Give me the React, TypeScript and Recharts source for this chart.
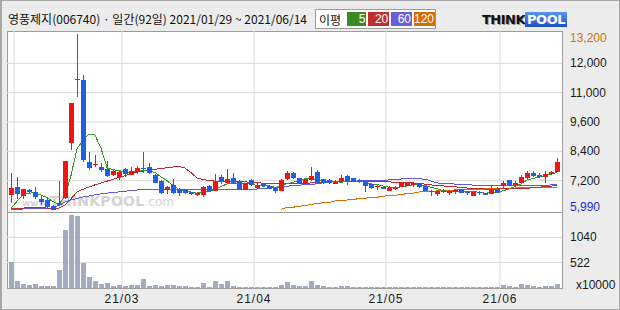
import React from "react";
import { ComposedChart, Bar, Line, XAxis, YAxis, CartesianGrid } from "recharts";

// trading days 2021/01/29 ~ 2021/06/14
const dates = [
  "01/29",
  "02/01", "02/02", "02/03", "02/04", "02/05", "02/08", "02/09", "02/10", "02/15",
  "02/16", "02/17", "02/18", "02/19", "02/22", "02/23", "02/24", "02/25", "02/26",
  "03/02", "03/03", "03/04", "03/05", "03/08", "03/09", "03/10", "03/11", "03/12",
  "03/15", "03/16", "03/17", "03/18", "03/19", "03/22", "03/23", "03/24", "03/25",
  "03/26", "03/29", "03/30", "03/31",
  "04/01", "04/02", "04/05", "04/06", "04/07", "04/08", "04/09", "04/12", "04/13",
  "04/14", "04/15", "04/16", "04/19", "04/20", "04/21", "04/22", "04/23", "04/26",
  "04/27", "04/28", "04/29", "04/30",
  "05/03", "05/04", "05/06", "05/07", "05/10", "05/11", "05/12", "05/13", "05/14",
  "05/17", "05/18", "05/20", "05/21", "05/24", "05/25", "05/26", "05/27", "05/28", "05/31",
  "06/01", "06/02", "06/03", "06/04", "06/07", "06/08", "06/09", "06/10", "06/11", "06/14",
];

const opens = [
  6620, 6930, 6580, 6800, 6730, 6450, 6390, 6140, 6280, 6480,
  8740, 11350, 11330, 7960, 7860, 7740, 7670, 7420, 7350, 7670,
  7440, 7530, 7720, 7740, 7420, 7180, 6810, 7010, 6840, 6840,
  6720, 6610, 6600, 6970, 6780, 7350, 7110, 7290, 7190, 6810,
  7220, 6880, 7070, 6970, 6900, 6780, 7250, 7520, 7290, 7060,
  7220, 7530, 7250, 7220, 7060, 7160, 7380, 7290, 7230, 7190,
  7050, 6950, 6950, 6780, 6880, 6950, 6970, 7000, 7060, 6970,
  6780, 6650, 6780, 6700, 6720, 6850, 6740, 6580, 6730, 6690,
  6650, 6850, 6980, 7220, 7010, 7090, 7290, 7520, 7440, 7360,
  7470, 7560,
];
const highs = [
  7500, 7340, 6870, 6840, 6930, 6560, 6510, 6200, 7170, 7990,
  10380, 13200, 11500, 8370, 8230, 7900, 7990, 7620, 7620, 7700,
  7740, 7780, 8380, 7900, 7480, 7220, 6990, 7250, 6880, 6860,
  6740, 6720, 6960, 7000, 7470, 7420, 7670, 7490, 7200, 7100,
  7240, 7100, 7110, 7000, 6920, 7250, 7600, 7560, 7300, 7280,
  7740, 7630, 7270, 7250, 7200, 7420, 7420, 7310, 7250, 7200,
  7060, 7000, 6990, 6960, 6960, 7120, 7130, 7110, 7080, 6990,
  6790, 6800, 6840, 6790, 6840, 6870, 6770, 6730, 6760, 6700,
  7010, 6940, 7180, 7230, 7170, 7420, 7600, 7600, 7520, 7600,
  7600, 8140,
];
const lows = [
  6280, 6450, 6450, 6680, 6450, 6200, 6020, 5990, 6140, 6450,
  8460, 10600, 7940, 7640, 7750, 7550, 7330, 7380, 7210, 7330,
  7420, 7450, 7500, 7480, 7100, 6650, 6650, 6660, 6560, 6660,
  6620, 6580, 6540, 6750, 6750, 7050, 7100, 7060, 6800, 6790,
  6980, 6860, 6930, 6830, 6700, 6760, 7220, 7250, 7040, 7040,
  7180, 7050, 7070, 7060, 7050, 7150, 7030, 7130, 7100, 6740,
  6860, 6800, 6830, 6760, 6800, 6930, 6960, 6940, 6900, 6760,
  6560, 6570, 6680, 6590, 6630, 6690, 6610, 6570, 6600, 6610,
  6640, 6690, 6880, 7000, 6990, 7080, 7250, 7330, 7300, 7110,
  7420, 7530,
];
const closes = [
  6890, 6660, 6850, 6720, 6510, 6300, 6100, 6000, 6190, 7990,
  10380, 11300, 8050, 7710, 7880, 7640, 7370, 7590, 7550, 7450,
  7600, 7710, 7690, 7520, 7110, 6700, 6950, 6700, 6670, 6670,
  6640, 6700, 6930, 6770, 7150, 7180, 7250, 7080, 6810, 7080,
  7000, 7010, 6970, 6840, 6780, 7220, 7520, 7310, 7060, 7250,
  7380, 7080, 7080, 7080, 7130, 7300, 7150, 7150, 7120, 6990,
  6880, 6990, 6850, 6900, 6900, 7080, 7110, 7090, 6920, 6780,
  6720, 6780, 6720, 6770, 6820, 6700, 6680, 6720, 6680, 6620,
  6810, 6700, 7110, 7010, 7110, 7350, 7520, 7400, 7340, 7450,
  7560, 7970,
];
// volume, x10000 shares
const volumes = [
  533, 143, 89, 68, 89, 41, 41, 41, 376, 1188,
  1496, 1475, 512, 232, 143, 82, 102, 41, 61, 41,
  61, 61, 184, 41, 61, 41, 61, 61, 41, 41,
  20, 20, 102, 20, 143, 82, 143, 41, 20, 20,
  20, 20, 20, 20, 20, 61, 123, 61, 41, 41,
  143, 61, 41, 20, 20, 41, 41, 20, 20, 20,
  20, 20, 20, 20, 20, 20, 20, 20, 20, 20,
  20, 20, 20, 20, 20, 20, 20, 20, 20, 20,
  20, 20, 61, 41, 20, 82, 61, 41, 20, 41,
  41, 82,
];

// moving averages as drawn
const ma5 = [
  6050, 6350, 6600, 6680, 6700, 6600, 6500, 6330, 6220, 6560,
  7400, 8500, 8850, 9090, 9060, 8520, 7730, 7640, 7610, 7520,
  7510, 7580, 7600, 7590, 7530, 7350, 7190, 7000, 6830, 6740,
  6730, 6680, 6720, 6740, 6840, 6950, 7060, 7090, 7090, 7080,
  7040, 7000, 6970, 6980, 6920, 6960, 7070, 7130, 7180, 7270,
  7300, 7220, 7170, 7170, 7150, 7130, 7150, 7160, 7170, 7140,
  7060, 7030, 6970, 6920, 6900, 6940, 6970, 7020, 7020, 7000,
  6920, 6860, 6780, 6750, 6760, 6760, 6740, 6740, 6720, 6680,
  6700, 6710, 6780, 6850, 6950, 7060, 7220, 7280, 7340, 7410,
  7450, 7540,
];
const ma20 = [
  6050, 6060, 6070, 6080, 6080, 6080, 6070, 6060, 6070, 6200,
  6450, 6730, 6840, 6930, 7020, 7100, 7170, 7250, 7320, 7400,
  7480, 7540, 7590, 7630, 7660, 7690, 7720, 7750, 7770, 7710,
  7520, 7300, 7240, 7200, 7170, 7160, 7150, 7150, 7150, 7140,
  7130, 7110, 7090, 7070, 7060, 7060, 7060, 7060, 7070, 7080,
  7100, 7120, 7130, 7150, 7150, 7150, 7150, 7150, 7150, 7150,
  7150, 7150, 7140, 7140, 7130, 7120, 7110, 7100, 7080, 7050,
  7020, 6990, 6980, 6950, 6940, 6920, 6890, 6880, 6860, 6850,
  6850, 6850, 6860, 6870, 6870, 6880, 6880, 6900, 6920, 6950,
  6970, 6990,
];
const ma60 = [
  6020, 6030, 6030, 6040, 6040, 6050, 6050, 6070, 6190, 6320,
  6400, 6460, 6520, 6560, 6610, 6650, 6680, 6710, 6730, 6760,
  6790, 6810, 6830, 6840, 6840, 6840, 6840, 6840, 6840, 6840,
  6840, 6840, 6830, 6830, 6830, 6830, 6830, 6830, 6830, 6840,
  6840, 6850, 6860, 6880, 6900, 6930, 6970, 6980, 7000, 7040,
  7040, 7060, 7100, 7150, 7150, 7150, 7150, 7160, 7190, 7200,
  7210, 7210, 7210, 7220, 7250, 7260, 7290, 7290, 7270, 7250,
  7180, 7100, 7080, 7080, 7050, 7040, 7040, 7010, 7000, 7000,
  6990, 6980, 6980, 6980, 6980, 6985, 6985, 6985, 6990, 6990,
  7020, 7040,
];
const ma120: (number | null)[] = Array(45).fill(null).concat([
  6020, 6100, 6100, 6150, 6160, 6230, 6240, 6290, 6290, 6360,
  6360, 6400, 6400, 6470, 6470, 6510, 6510, 6560, 6570, 6600,
  6610, 6670, 6680, 6730, 6740, 6760, 6770, 6770, 6800, 6810,
  6820, 6830, 6830, 6840, 6850, 6860, 6870, 6880, 6880, 6890,
  6900, 6910, 6915, 6920, 6920, 6920, 6925,
]);

// axis
const priceTicks = [5990, 7192, 8393, 9595, 10797, 11998, 13200];
const priceLabels = ["5,990", "7,200", "8,400", "9,600", "11,000", "12,000", "13,200"];
const priceGrid = priceTicks.slice(1, -1);
const volTicks = [522, 1040];
const monthStarts = [1, 19, 41, 63, 82];
const monthLabels = ["", "21/03", "21/04", "21/05", "21/06"];

const RED = "#f01414";
const BLUE = "#1f5fe4";
const C5 = "#3c9628";
const C20 = "#c02a2a";
const C60 = "#6655dd";
const C120 = "#dd6e00";
const GRID = "#dadada";
const AXIS_FONT = "'Liberation Sans', Arial, sans-serif";

const rows = dates.map((d, i) => ({
  d,
  i,
  o: opens[i],
  h: highs[i],
  l: lows[i],
  c: closes[i],
  v: volumes[i],
  ma5: ma5[i],
  ma20: ma20[i],
  ma60: ma60[i],
  ma120: ma120[i],
}));

function Candle(props: any) {
  const { x, y, height, payload } = props;
  if (x == null || y == null) return null;
  const { o, h, l, c } = payload;
  const top = Math.min(y, y + height);
  const span = Math.abs(height);
  const py = (v: number) => (h === l ? top : top + ((h - v) / (h - l)) * span);
  const color = c >= o ? RED : BLUE;
  const bx = Math.round(x);
  const wt = Math.round(top);
  const wb = Math.max(wt + 1, Math.round(top + span));
  const y1 = Math.round(py(Math.max(o, c)));
  const y2 = Math.max(y1 + 1, Math.round(py(Math.min(o, c))));
  return (
    <g shapeRendering="crispEdges">
      <rect x={bx + 3} y={wt} width={1} height={wb - wt} fill={color} />
      <rect x={bx + 1} y={y1} width={5} height={y2 - y1} fill={color} />
    </g>
  );
}

function VolBar(props: any) {
  const { x, y, height } = props;
  if (x == null || y == null) return null;
  const top = Math.round(y);
  const bottom = Math.round(y + height);
  return (
    <rect
      x={Math.round(x) + 1}
      y={top}
      width={5}
      height={Math.max(1, bottom - top)}
      fill="#a3abc2"
      shapeRendering="crispEdges"
    />
  );
}

function PriceTick(props: any) {
  const v = props.payload.value;
  const k = priceTicks.indexOf(v);
  const fill = k === priceTicks.length - 1 ? "#d56f00" : k === 0 ? "#1a2ee0" : "#1a1a1a";
  const dy = k === priceTicks.length - 1 ? 4 : k === 0 ? -3 : 0;
  return (
    <text x={props.x} y={props.y + dy} dy={4} textAnchor="start" fontSize={12} fontFamily={AXIS_FONT} fill={fill}>
      {priceLabels[k]}
    </text>
  );
}

function VolTick(props: any) {
  return (
    <text x={props.x} y={props.y} dy={4} textAnchor="start" fontSize={12} fontFamily={AXIS_FONT} fill="#1a1a1a">
      {props.payload.value}
    </text>
  );
}

const legend = [
  { label: "5", color: "#3b8a24", w: 20 },
  { label: "20", color: "#c22d2d", w: 21 },
  { label: "60", color: "#6b5fd9", w: 21 },
  { label: "120", color: "#d96b00", w: 21 },
];

export default function App() {
  return (
    <div
      style={{
        position: "fixed",
        left: 0,
        top: 0,
        width: 620,
        height: 310,
        background: "#ececec",
        overflow: "hidden",
      }}
    >
      {/* header */}
      <div
        style={{
          position: "absolute",
          left: 8,
          top: 10,
          fontFamily: "'Noto Sans CJK KR', sans-serif",
          fontSize: 12,
          lineHeight: "18px",
          color: "#111",
          whiteSpace: "nowrap",
        }}
      >
        영풍제지(006740) · 일간(92일) 2021/01/29 ~ 2021/06/14
      </div>
      <div
        style={{
          position: "absolute",
          left: 315,
          top: 9,
          width: 121,
          height: 20,
          background: "#fff",
          border: "1px solid #9a9a9a",
          boxSizing: "border-box",
          display: "flex",
          alignItems: "center",
          paddingLeft: 3,
          gap: 2,
        }}
      >
        <span
          style={{
            width: 26,
            fontFamily: "'Noto Sans CJK KR', sans-serif",
            fontSize: 12,
            color: "#111",
          }}
        >
          이평
        </span>
        {legend.map((m) => (
          <span
            key={m.label}
            style={{
              width: m.w,
              height: 14,
              background: m.color,
              color: "#fff",
              fontFamily: AXIS_FONT,
              fontSize: 12,
              lineHeight: "14px",
              textAlign: "right",
              paddingRight: 1,
              boxSizing: "border-box",
            }}
          >
            {m.label}
          </span>
        ))}
      </div>
      <div
        style={{
          position: "absolute",
          left: 482,
          top: 11,
          height: 16,
          display: "flex",
          alignItems: "center",
          fontFamily: "'DejaVu Sans', sans-serif",
          fontWeight: 900,
          fontSize: 13,
          letterSpacing: -0.5,
        }}
      >
        <span style={{ color: "#111", textShadow: "1px 1px 0 #999" }}>THINK</span>
        <span
          style={{
            color: "#fff",
            background: "linear-gradient(#5b93f2, #1c4fc4)",
            padding: "0 2px",
            lineHeight: "15px",
          }}
        >
          POOL
        </span>
      </div>

      {/* plot panels */}
      <div
        style={{
          position: "absolute",
          left: 7,
          top: 31,
          width: 556,
          height: 258,
          background: "#fff",
          border: "1px solid #9c9c9c",
          boxSizing: "border-box",
        }}
      />
      <div
        style={{
          position: "absolute",
          left: 22,
          top: 192,
          color: "#d4d4d4",
          fontFamily: "'DejaVu Sans', sans-serif",
          fontWeight: 700,
          whiteSpace: "nowrap",
          lineHeight: "18px",
        }}
      >
        <span style={{ fontSize: 9 }}>www.</span>
        <span style={{ fontSize: 14, letterSpacing: 0.3 }}>THINKPOOL</span>
        <span style={{ fontSize: 12, fontWeight: 400 }}>.com</span>
      </div>

      <div style={{ position: "absolute", left: 0, top: 0 }}>
        <ComposedChart
          width={620}
          height={222}
          data={rows}
          margin={{ top: 31, right: 0, bottom: 10, left: 7 }}
          barCategoryGap={0}
        >
          <XAxis xAxisId="num" dataKey="i" type="number" hide height={0} domain={[0, 92]} allowDataOverflow padding={{ left: 1, right: 2 }} />
          <XAxis xAxisId="cat" dataKey="d" hide height={0} padding={{ left: 1, right: 2 }} />
          <YAxis
            orientation="right"
            width={58}
            type="number"
            domain={[5908, 13323]}
            allowDataOverflow
            ticks={priceTicks}
            interval={0}
            axisLine={false}
            tickLine={false}
            tick={PriceTick}
          />
          <CartesianGrid xAxisId="num" stroke={GRID} horizontalValues={priceGrid} verticalValues={monthStarts} />
          <Line xAxisId="cat" dataKey="ma120" stroke={C120} strokeWidth={1} dot={false} activeDot={false} isAnimationActive={false} shapeRendering="crispEdges" />
          <Line xAxisId="cat" dataKey="ma60" stroke={C60} strokeWidth={1} dot={false} activeDot={false} isAnimationActive={false} shapeRendering="crispEdges" />
          <Line xAxisId="cat" dataKey="ma20" stroke={C20} strokeWidth={1} dot={false} activeDot={false} isAnimationActive={false} shapeRendering="crispEdges" />
          <Line xAxisId="cat" dataKey="ma5" stroke={C5} strokeWidth={1} dot={false} activeDot={false} isAnimationActive={false} shapeRendering="crispEdges" />
          <Bar xAxisId="cat" dataKey={(r: any) => [r.l, r.h]} shape={Candle} isAnimationActive={false} zIndex={500} />
        </ComposedChart>
      </div>

      <div style={{ position: "absolute", left: 0, top: 190 }}>
        <ComposedChart
          width={620}
          height={120}
          data={rows}
          margin={{ top: 22, right: 0, bottom: 0, left: 7 }}
          barCategoryGap={0}
        >
          <XAxis
            xAxisId="num"
            dataKey="i"
            type="number"
            domain={[0, 92]}
            allowDataOverflow
            padding={{ left: 1, right: 2 }}
            height={22}
            ticks={monthStarts}
            interval={0}
            axisLine={false}
            tickLine={false}
            tickMargin={0}
            tickFormatter={(v: number) => monthLabels[monthStarts.indexOf(v)]}
            tick={{ fontSize: 12, fill: "#1a1a1a", fontFamily: AXIS_FONT, letterSpacing: 1 }}
          />
          <XAxis xAxisId="cat" dataKey="d" hide height={0} padding={{ left: 1, right: 2 }} />
          <YAxis
            orientation="right"
            width={58}
            type="number"
            domain={[0, 1560]}
            allowDataOverflow
            ticks={volTicks}
            interval={0}
            axisLine={false}
            tickLine={false}
            tick={VolTick}
          />
          <CartesianGrid xAxisId="num" stroke={GRID} horizontalValues={volTicks} verticalValues={monthStarts} />
          <Bar xAxisId="cat" dataKey="v" shape={VolBar} isAnimationActive={false} />
        </ComposedChart>
      </div>

      <div
        style={{
          position: "absolute",
          left: 7,
          top: 212,
          width: 556,
          height: 1,
          background: "#9c9c9c",
        }}
      />
      <div
        style={{
          position: "absolute",
          left: 576,
          top: 278,
          fontFamily: AXIS_FONT,
          fontSize: 12,
          lineHeight: "14px",
          color: "#1a1a1a",
        }}
      >
        x10000
      </div>
      <div
        style={{
          position: "absolute",
          left: 0,
          top: 0,
          width: 620,
          height: 310,
          boxSizing: "border-box",
          border: "1px solid #a8a8a8",
          borderLeftWidth: 2,
          pointerEvents: "none",
        }}
      />
    </div>
  );
}
